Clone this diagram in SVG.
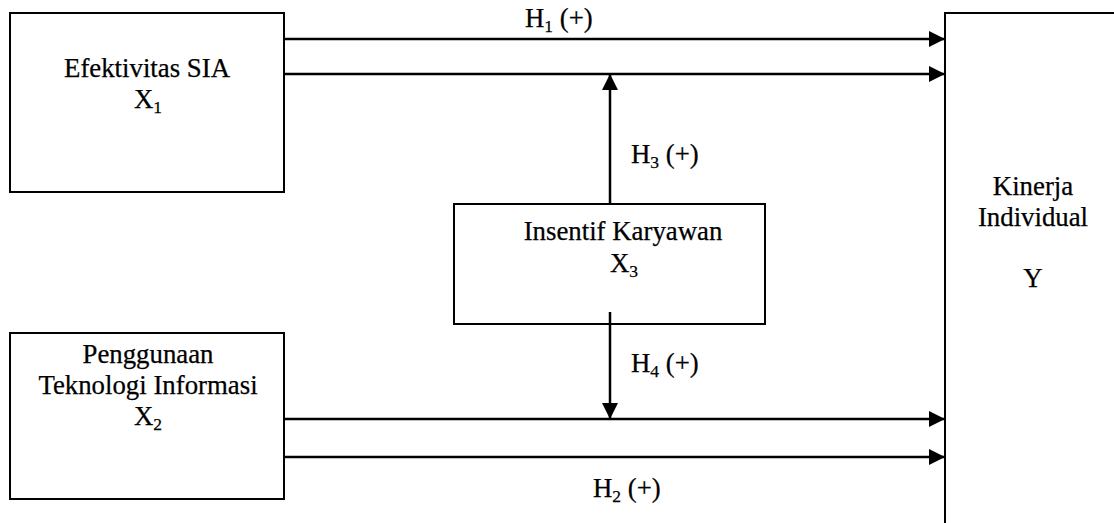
<svg xmlns="http://www.w3.org/2000/svg" width="1114" height="523" viewBox="0 0 1114 523">
  <style>
    .box { fill: #ffffff; stroke: #000000; stroke-width: 2; }
    .wire { stroke: #000000; stroke-width: 2.5; fill: none; }
    .mid { text-anchor: middle; }
  </style>
  <defs>
    <marker id="head" viewBox="0 0 16 16" refX="16" refY="8" markerWidth="16" markerHeight="16" markerUnits="userSpaceOnUse" orient="auto">
      <path d="M0,0 L16,8 L0,16 Z" fill="#000000"/>
    </marker>
  </defs>
  <rect width="1114" height="523" fill="#ffffff"/>

  <!-- all labels: Times-metric serif, 26.8px; subscripts 17.5px -->
  <g id="x1" style="font-family:'Liberation Serif', serif; font-size:26.8px; stroke:#000; stroke-width:0.25">
    <rect class="box" x="10" y="13" width="274" height="179"/>
    <text class="mid" x="147" y="77">Efektivitas SIA</text>
    <text x="134" y="108">X<tspan dy="5" style="font-size:17.5px">1</tspan></text>
  </g>

  <g id="x2" style="font-family:'Liberation Serif', serif; font-size:26.8px; stroke:#000; stroke-width:0.25">
    <rect class="box" x="10" y="333" width="274" height="166"/>
    <text class="mid" x="148" y="363">Penggunaan</text>
    <text class="mid" x="148" y="394">Teknologi Informasi</text>
    <text x="134" y="425">X<tspan dy="5" style="font-size:17.5px">2</tspan></text>
  </g>

  <g id="x3" style="font-family:'Liberation Serif', serif; font-size:26.8px; stroke:#000; stroke-width:0.25">
    <rect class="box" x="454" y="204" width="311" height="120"/>
    <text class="mid" x="623" y="240">Insentif Karyawan</text>
    <text x="610" y="272">X<tspan dy="5" style="font-size:17.5px">3</tspan></text>
  </g>

  <g id="y" style="font-family:'Liberation Serif', serif; font-size:26.8px; stroke:#000; stroke-width:0.25">
    <rect class="box" x="945" y="13" width="200" height="540"/>
    <text class="mid" x="1033" y="195">Kinerja</text>
    <text class="mid" x="1033" y="226">Individual</text>
    <text class="mid" x="1033" y="287">Y</text>
  </g>

  <g id="connectors">
    <line class="wire" x1="284" y1="39" x2="945" y2="39" marker-end="url(#head)"/>
    <line class="wire" x1="284" y1="74" x2="945" y2="74" marker-end="url(#head)"/>
    <line class="wire" x1="284" y1="419" x2="945" y2="419" marker-end="url(#head)"/>
    <line class="wire" x1="284" y1="457" x2="945" y2="457" marker-end="url(#head)"/>
    <line class="wire" x1="610" y1="204" x2="610" y2="74" marker-end="url(#head)"/>
    <line class="wire" x1="610" y1="312" x2="610" y2="419" marker-end="url(#head)"/>
  </g>

  <g id="labels" style="font-family:'Liberation Serif', serif; font-size:26.8px; stroke:#000; stroke-width:0.25">
    <text x="525" y="27">H<tspan dy="5" style="font-size:17.5px">1</tspan><tspan dy="-5"> (+)</tspan></text>
    <text x="631" y="163">H<tspan dy="5" style="font-size:17.5px">3</tspan><tspan dy="-5"> (+)</tspan></text>
    <text x="631" y="372">H<tspan dy="5" style="font-size:17.5px">4</tspan><tspan dy="-5"> (+)</tspan></text>
    <text x="593" y="497">H<tspan dy="5" style="font-size:17.5px">2</tspan><tspan dy="-5"> (+)</tspan></text>
  </g>
</svg>
